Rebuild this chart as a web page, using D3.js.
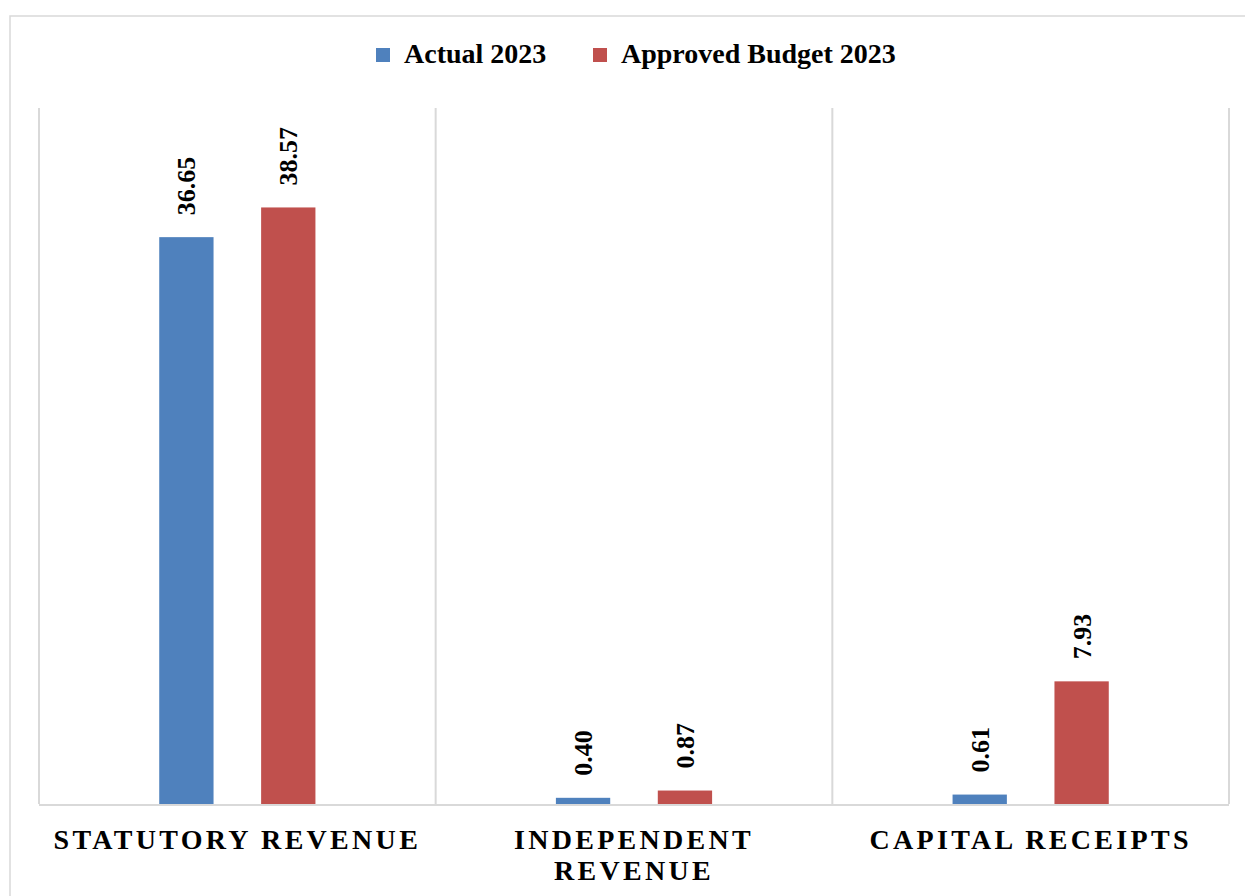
<!DOCTYPE html>
<html>
<head>
<meta charset="utf-8">
<script src="https://cdn.jsdelivr.net/npm/d3@7"></script>
<style>
html,body{margin:0;padding:0;background:#fff;}
svg{display:block;}
text{font-family:"Liberation Serif","Times New Roman",serif;font-weight:bold;fill:#000;}
</style>
</head>
<body>
<svg id="chart" width="1245" height="896"></svg>
<script>
const categories = ["STATUTORY REVENUE", "INDEPENDENT REVENUE", "CAPITAL RECEIPTS"];
const seriesNames = ["Actual 2023", "Approved Budget 2023"];
const actual2023 = [36.65, 0.40, 0.61];
const approved2023 = [38.57, 0.87, 7.93];
const seriesColors = ["#4F81BD", "#C0504D"];

const seriesValues = [actual2023, approved2023];
const data = categories.map((c, i) => ({
  category: c,
  values: seriesNames.map((s, j) => ({series: s, value: seriesValues[j][i], color: seriesColors[j]}))
}));

const svg = d3.select("#chart");
const W = 1245, H = 896;
const plot = {left: 39, right: 1229, top: 108, bottom: 804};

svg.append("rect").attr("x", 0).attr("y", 0).attr("width", W).attr("height", H).attr("fill", "#fff");
// outer chart border (extends past the visible area)
svg.append("rect").attr("x", 10).attr("y", 16).attr("width", W + 20).attr("height", H + 20)
  .attr("fill", "none").attr("stroke", "#D9D9D9").attr("stroke-width", 1.5);

const x0 = d3.scaleBand().domain(categories).range([plot.left, plot.right]).paddingInner(0).paddingOuter(0);
const x1 = d3.scaleBand().domain(seriesNames).range([0, x0.bandwidth()]).paddingInner(0.467).paddingOuter(1.18).align(0.5);
const y = d3.scaleLinear().domain([0, 45]).range([plot.bottom, plot.top]);

// vertical category separators
const bounds = categories.map(c => x0(c)).concat([x0(categories[categories.length - 1]) + x0.bandwidth()]);
svg.append("g").selectAll("line").data(bounds).join("line")
  .attr("x1", d => d).attr("x2", d => d)
  .attr("y1", plot.top).attr("y2", plot.bottom)
  .attr("stroke", "#D9D9D9").attr("stroke-width", 2);

// bars
const groups = svg.append("g").selectAll("g").data(data).join("g")
  .attr("transform", d => `translate(${x0(d.category)},0)`);

groups.selectAll("rect").data(d => d.values).join("rect")
  .attr("x", d => x1(d.series))
  .attr("width", x1.bandwidth())
  .attr("y", d => y(d.value))
  .attr("height", d => y(0) - y(d.value))
  .attr("fill", d => d.color);

// data labels
groups.selectAll("text").data(d => d.values).join("text")
  .attr("transform", d => `translate(${x1(d.series) + x1.bandwidth() / 2},${y(d.value) - 22}) rotate(-90)`)
  .attr("dy", "0.35em")
  .attr("text-anchor", "start")
  .style("font-size", "26px")
  .text(d => d.value.toFixed(2));

// x axis baseline
svg.append("line")
  .attr("x1", plot.left).attr("x2", plot.right)
  .attr("y1", y(0) + 1).attr("y2", y(0) + 1)
  .attr("stroke", "#D9D9D9").attr("stroke-width", 2);

// category labels with wrapping
const labelG = svg.append("g");
categories.forEach(c => {
  const cx = x0(c) + x0.bandwidth() / 2;
  const t = labelG.append("text")
    .attr("x", cx).attr("y", 849)
    .attr("text-anchor", "middle")
    .style("font-size", "28px")
    .style("letter-spacing", "3.3px")
    .text(c);
  if (t.node().getComputedTextLength() > x0.bandwidth() - 4) {
    const words = c.split(" ");
    t.text(null);
    words.forEach((w, i) => {
      t.append("tspan").attr("x", cx).attr("y", 849 + i * 31).text(w);
    });
  }
});

// legend
const legendItems = [
  {name: seriesNames[0], color: seriesColors[0], x: 376},
  {name: seriesNames[1], color: seriesColors[1], x: 593}
];
const lg = svg.append("g");
legendItems.forEach(it => {
  lg.append("rect").attr("x", it.x).attr("y", 48).attr("width", 14).attr("height", 14).attr("fill", it.color);
  lg.append("text").attr("x", it.x + 28).attr("y", 63).style("font-size", "28px").text(it.name);
});
</script>
</body>
</html>
